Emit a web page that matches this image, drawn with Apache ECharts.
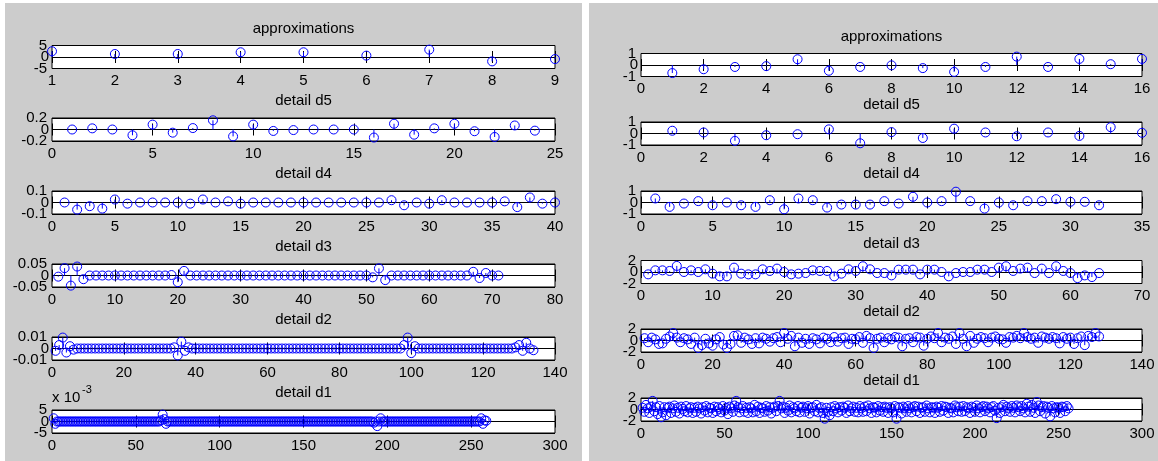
<!DOCTYPE html>
<html><head><meta charset="utf-8">
<script src="https://cdn.jsdelivr.net/npm/echarts@6/dist/echarts.min.js"></script>
<style>html,body{margin:0;padding:0;background:#fff}#c{width:1158px;height:461px}</style>
</head><body><div id="c"></div><script>
// ---------- DATA (left figure) ----------
const leftTitles = ['approximations','detail d5','detail d4','detail d3','detail d2','detail d1'];
const leftApprox = [2.5,1.3,1.3,2.06,2.06,0.6,3.2,-1.9,-0.9];
const leftD5 = [0,0.02,0,-0.1,0.085,-0.055,0.025,0.16,-0.12,0.085,-0.025,-0.01,0,0,0,-0.14,0.1,-0.09,0.02,0.1,-0.03,-0.13,0.07,-0.02];
const leftD4 = [0,-0.062,-0.032,-0.053,0.026,-0.01,0,0,0,0,-0.01,0.026,0,0.01,-0.01,0,0,0,0,0,
                0,0,0,0,0,0,0.02,-0.024,0,-0.01,0.02,0,0,0,0,0.01,-0.04,0.044,-0.01,0];
const leftD3 = [-0.005,0.032,-0.044,0.039,-0.016,0,0,0,0,0,0,0,0,0,0,0,0,0,0.002,-0.029,
                0.02,0,0,0,0,0,0,0,0,0,0,0,0,0,0,0,0,0,0,0,
                0,0,0,0,0,0,0,0,0,0,-0.008,0.031,-0.02,0,0,0,0,0,0,0,
                0,0,0,0,0,0,0.016,-0.011,0.011,0,0];
const leftD2 = [-0.002,0.003,0.0095,-0.0035,0.002,-0.001,0,0,0,0,0,0,0,0,0,0,
                0,0,0,0,0,0,0,0,0,0,0,0,0,0,0,0,
                0,0.001,-0.006,0.006,-0.002,0.001,0,0,0,0,0,0,0,0,0,0,
                0,0,0,0,0,0,0,0,0,0,0,0,0,0,0,0,
                0,0,0,0,0,0,0,0,0,0,0,0,0,0,0,0,
                0,0,0,0,0,0,0,0,0,0,0,0,0,0,0,0,
                0,0.003,0.0095,-0.004,0.002,0,0,0,0,0,0,0,0,0,0,0,
                0,0,0,0,0,0,0,0,0,0,0,0,0,0,0,0,
                0.001,0.003,-0.002,0.005,0,-0.0015];
const leftD1 = [0.0014,-0.001,0,0,0,0,0,0,0,0,0,0,0,0,0,0,
                0,0,0,0,0,0,0,0,0,0,0,0,0,0,0,0,
                0,0,0,0,0,0,0,0,0,0,0,0,0,0,0,0,
                0,0,0,0,0,0,0,0,0,0,0,0,0,0,0,0,
                0.0005,0.003,0.001,-0.001,0,0,0,0,0,0,0,0,0,0,0,0,
                0,0,0,0,0,0,0,0,0,0,0,0,0,0,0,0,
                0,0,0,0,0,0,0,0,0,0,0,0,0,0,0,0,
                0,0,0,0,0,0,0,0,0,0,0,0,0,0,0,0,
                0,0,0,0,0,0,0,0,0,0,0,0,0,0,0,0,
                0,0,0,0,0,0,0,0,0,0,0,0,0,0,0,0,
                0,0,0,0,0,0,0,0,0,0,0,0,0,0,0,0,
                0,0,0,0,0,0,0,0,0,0,0,0,0,0,0,-0.0005,
                0,-0.002,0,0.0014,0,0,0,0,0,0,0,0,0,0,0,0,
                0,0,0,0,0,0,0,0,0,0,0,0,0,0,0,0,
                0,0,0,0,0,0,0,0,0,0,0,0,0,0,0,0,
                0,0,0,0,0,0,0,0,0,0,0,0,0,0,0,0.0014,
                -0.001,0.0005,0.0003];
// ---------- DATA (right figure) ----------
const rightTitles = ['approximations','detail d5','detail d4','detail d3','detail d2','detail d1'];
const rightApprox = [-0.7,-0.37,-0.17,-0.1,0.5,-0.5,-0.17,-0.03,-0.27,-0.6,-0.17,0.73,-0.17,0.53,0.07,0.53];
const rightD5 = [0.24,0.09,-0.64,-0.15,-0.06,0.36,-0.85,0.12,-0.39,0.42,0.09,-0.24,0.09,-0.21,0.55,0.06];
const rightD4 = [0.35,-0.38,-0.09,0.12,-0.24,0,-0.24,-0.38,0.2,-0.59,0.35,0.2,-0.44,-0.18,-0.18,-0.18,
                 0.12,-0.09,0.5,0,0.12,0.94,0.12,-0.53,0,-0.24,0.12,0.12,0.29,0.06,0.06,-0.24];
const rightD3 = [-0.41,0.29,0.29,0.18,1.06,0,0.29,0,0.47,-0.29,-0.76,-0.76,0.76,-0.29,-0.41,-0.41,
                 0.47,0.18,0.59,0,-0.41,-0.29,-0.18,0.29,0.18,0.18,-0.76,-0.29,0.47,0.18,1.0,0.47,
                 -0.18,-0.18,-0.59,0.41,0.41,0.41,-0.41,0.41,0.41,0,-0.76,-0.18,0,0,0.41,0.41,
                 0,0.76,1.0,0.18,0.59,0.76,-0.18,0.59,-0.18,1.0,0.18,-0.18,-1.06,-0.59,-0.88,-0.18];
const rightD2 = [0.4,-0.3,0.5,0.2,-0.6,-0.5,0.3,0.7,1.3,0.5,-0.3,0.4,0.2,-0.6,0.5,-1.3,
                 -0.8,0.3,-0.5,-0.9,0.2,0.6,-0.7,-1.3,-0.6,0.8,0.9,-0.4,0.5,0.2,-0.6,0.4,
                 -0.5,0.5,0.3,-0.2,0.4,0.6,-0.3,1.3,0.3,0.8,-1.0,0.5,-0.4,0.3,-0.6,0.4,
                 0.2,-0.5,0.5,0.3,-0.3,0.6,-0.2,0.4,0.5,-0.6,0.3,0.2,0.6,-0.4,0.8,0.4,
                 -1.3,0.3,0.5,-0.3,0.4,0.2,0.6,0.5,-1.0,0.3,0.4,-0.3,0.6,0.5,-0.9,0.3,
                 0.7,0.4,1.3,-0.3,0.5,0.3,0.7,-0.6,1.3,0.3,-1.0,0.8,-0.4,0.3,0.6,0.4,
                 -0.3,0.5,0.7,0.3,0.2,-0.4,0.6,0.5,0.8,0.4,1.3,0.6,0.3,0.5,-0.4,0.7,
                 0.5,0.3,0.6,0.4,-0.5,0.6,0.3,0.5,-0.6,0.4,0.7,-0.8,0.8,0.6,1.3,0.7];
const rightD1 = [0.3,-0.4,0.8,0.2,-0.6,0.5,1.5,-0.3,0.4,-0.8,0.6,-1.35,-0.5,0.4,-1.0,0.3,
                 0.5,-0.6,0.2,0.7,-0.4,0.3,-0.7,0.5,0.1,-0.3,0.6,-0.5,0.2,0.4,-0.6,0.3,
                 -0.4,0.5,0.2,-0.7,0.4,-0.2,0.6,-0.5,0.3,0.2,-0.6,0.5,-0.3,0.4,0.1,-0.5,
                 0.6,-0.2,0.3,-0.8,0.5,0.2,-0.4,0.7,1.5,0.4,-0.5,0.2,0.6,-0.4,0.3,-0.6,
                 0.4,0.2,-0.5,0.8,-0.3,0.5,-0.6,0.3,0.2,-0.4,0.6,-0.2,0.4,-0.7,0.3,0.5,
                 -0.3,0.6,1.5,0.2,0.5,-0.6,0.3,-0.2,0.7,-0.5,0.4,0.2,-0.3,0.6,-0.5,0.3,
                 0.5,-0.4,0.2,0.6,-0.7,0.3,0.4,-0.3,0.8,-0.5,0.2,0.4,-0.6,-1.6,0.3,-0.4,
                 -1.0,0.4,-0.3,0.6,0.2,-0.5,0.4,-0.2,0.5,0.3,-0.6,0.7,-0.3,0.2,0.5,-0.4,
                 0.3,-0.5,0.6,0.2,-0.4,0.5,-0.3,0.7,0.2,-0.6,0.4,0.3,-0.5,0.6,-0.2,0.4,
                 -0.4,0.5,0.3,-0.6,0.4,0.2,-0.5,0.6,-1.6,0.4,0.3,-0.7,0.5,0.2,-0.4,0.6,
                 0.2,-0.5,0.4,0.6,-0.3,0.5,-0.6,0.3,0.4,-0.4,0.7,0.2,-0.5,0.4,0.3,-0.6,
                 0.5,0.3,-0.4,0.6,-0.2,0.5,0.4,-0.6,0.3,0.2,-0.5,0.7,0.4,-0.3,0.5,-0.4,
                 0.6,-0.3,0.4,0.2,-0.6,0.5,0.3,-0.4,0.7,0.2,-0.5,0.4,0.6,-0.3,0.5,0.2,
                 -0.5,0.4,0.6,-0.2,-1.5,0.3,-0.6,0.4,0.8,-0.3,0.5,0.2,-0.4,0.6,0.3,-0.5,
                 0.7,0.4,-0.3,0.6,0.2,-0.5,1.0,0.5,-0.4,0.8,0.3,-0.6,1.3,0.7,-0.3,0.4,
                 0.6,-0.7,0.5,0.3,-1.2,0.6,0.2,-0.5,0.4,0.3,-0.6,0.5,0.4,-0.3,0.6,0.2];
// axis ranges: [xmin, xmax, xinterval, ylimit]
const leftRanges  = [[1,9,1,5],[0,25,5,0.2],[0,40,5,0.1],[0,80,10,0.05],[0,140,20,0.01],[0,300,50,0.005]];
const rightRanges = [[0,16,2,1],[0,16,2,1],[0,35,5,1],[0,70,10,2],[0,140,20,2],[0,300,50,2]];

// ---------- LAYOUT ----------
const FONT = '"Liberation Sans", Arial, Helvetica, sans-serif';
const leftSeries = [leftApprox,leftD5,leftD4,leftD3,leftD2,leftD1];
const rightSeries = [rightApprox,rightD5,rightD4,rightD3,rightD2,rightD1];
const leftTops = [45.5,118,191,264,337,410];
const rightTops = [53.5,122,191,260.5,329,398];
const plots = [];
for (let i=0;i<6;i++) plots.push({data:leftSeries[i], r:leftRanges[i], title:leftTitles[i], left:52, width:503, top:leftTops[i], scale: i===5?1000:1});
for (let i=0;i<6;i++) plots.push({data:rightSeries[i], r:rightRanges[i], title:rightTitles[i], left:641, width:501, top:rightTops[i], scale:1});

const grids=[], xAxes=[], yAxes=[], series=[], graphics=[];
graphics.push({type:'rect', z:-100, shape:{x:5,y:3,width:577,height:458}, style:{fill:'#cccccc'}});
graphics.push({type:'rect', z:-100, shape:{x:589,y:3,width:569,height:458}, style:{fill:'#cccccc'}});
const H = 23;
const fmt = (sc)=>(v)=>{ const t=v*sc; if (Math.abs(t)<1e-9) return '0'; return String(parseFloat(t.toPrecision(6))); };
plots.forEach((p,k)=>{
  grids.push({left:p.left, top:p.top, width:p.width, height:H, show:true, backgroundColor:'#fff', borderColor:'#000', borderWidth:1, containLabel:false});
  const [xmin,xmax,xint,ylim] = p.r;
  const common = {type:'value', gridIndex:k, min:xmin, max:xmax, interval:xint,
    axisLine:{show:false}, splitLine:{show:false},
    axisTick:{show:true, inside:true, length:6, lineStyle:{color:'#000', width:1}}};
  xAxes.push(Object.assign({}, common, {position:'bottom',
    axisLabel:{show:true, color:'#000', fontFamily:FONT, fontSize:15, margin:5, showMinLabel:true, showMaxLabel:true}}));
  xAxes.push(Object.assign({}, common, {position:'top', axisLabel:{show:false}}));
  const yCommon = {type:'value', gridIndex:k, min:-ylim, max:ylim, interval:ylim, position:'left',
    axisLine:{show:false}, axisTick:{show:false}};
  // axis carrying the zero line and the end labels
  yAxes.push(Object.assign({}, yCommon, {
    splitLine:{show:true, lineStyle:{color:'#000', width:1}},
    axisLabel:{show:true, color:'#000', fontFamily:FONT, fontSize:15, margin:5,
      showMinLabel:true, showMaxLabel:true, formatter:fmt(p.scale)}}));
  // axis carrying only the middle (zero) label
  yAxes.push(Object.assign({}, yCommon, {
    splitLine:{show:false},
    axisLabel:{show:true, color:'#000', fontFamily:FONT, fontSize:15, margin:3,
      showMinLabel:false, showMaxLabel:false, formatter:fmt(p.scale)}}));
  series.push({type:'custom', coordinateSystem:'cartesian2d', xAxisIndex:2*k, yAxisIndex:2*k,
    silent:true, clip:false, z:5,
    data:p.data.map((v,i)=>[i+1,v]),
    renderItem:(params, api)=>{
      const x=api.value(0), y=api.value(1);
      const pt=api.coord([x,y]), b=api.coord([x,0]);
      return {type:'group', children:[
        {type:'line', shape:{x1:b[0],y1:b[1],x2:pt[0],y2:pt[1]}, style:{stroke:'#0000ff', lineWidth:1}},
        {type:'circle', shape:{cx:pt[0],cy:pt[1],r:4.5}, style:{fill:'none', stroke:'#0000ff', lineWidth:1}}
      ]};
    }});
  graphics.push({type:'text', z:100, x:p.left+p.width/2, y:p.top-17,
    style:{text:p.title, fill:'#000', font:'15px '+FONT, textAlign:'center', textVerticalAlign:'middle'}});
});
// exponent label for left d1
graphics.push({type:'text', z:100, x:52, y:398, style:{text:'x 10', fill:'#000', font:'15px '+FONT, textAlign:'left', textVerticalAlign:'middle'}});
graphics.push({type:'text', z:100, x:82, y:390, style:{text:'-3', fill:'#000', font:'11px '+FONT, textAlign:'left', textVerticalAlign:'middle'}});

const chart = echarts.init(document.getElementById('c'), null, {renderer:'canvas'});
chart.setOption({animation:false, backgroundColor:'#ffffff', grid:grids, xAxis:xAxes, yAxis:yAxes, series:series, graphic:graphics});
</script></body></html>
